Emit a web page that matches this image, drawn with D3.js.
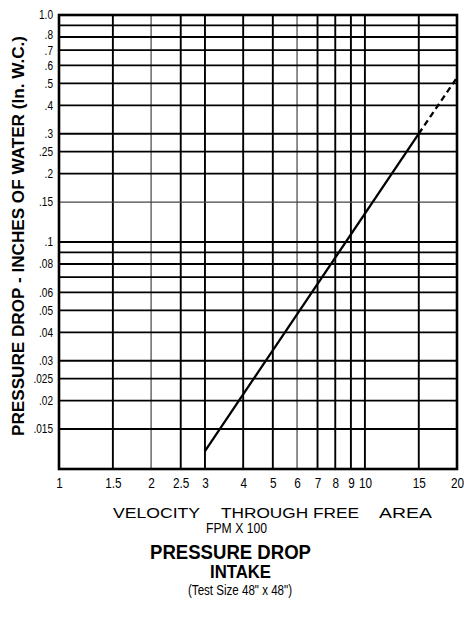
<!DOCTYPE html>
<html>
<head>
<meta charset="utf-8">
<script src="https://cdn.jsdelivr.net/npm/d3@7"></script>
<style>
  html, body { margin: 0; padding: 0; background: #fff; }
  svg { display: block; }
  .sans { font-family: "Liberation Sans", Arial, Helvetica, sans-serif; }
</style>
</head>
<body>
<svg id="chart" width="464" height="624"></svg>
<script>
// ---- data ----
const xTicks = [1, 1.5, 2, 2.5, 3, 4, 5, 6, 7, 8, 9, 10, 15, 20];
const xTickLabels = ["1", "1.5", "2", "2.5", "3", "4", "5", "6", "7", "8", "9", "10", "15", "20"];
const xGrid = [1.5, 2, 2.5, 3, 4, 5, 6, 7, 8, 9, 10, 15];
const xGridLight = [2, 6];

const yTicks = [1, 0.8, 0.7, 0.6, 0.5, 0.4, 0.3, 0.25, 0.2, 0.15, 0.1, 0.08, 0.06, 0.05, 0.04, 0.03, 0.025, 0.02, 0.015];
const yTickLabels = ["1.0", ".8", ".7", ".6", ".5", ".4", ".3", ".25", ".2", ".15", ".1", ".08", ".06", ".05", ".04", ".03", ".025", ".02", ".015"];
const yGrid = [0.9, 0.8, 0.7, 0.6, 0.5, 0.4, 0.3, 0.25, 0.2, 0.15, 0.1, 0.09, 0.08, 0.07, 0.06, 0.05, 0.04, 0.03, 0.025, 0.02, 0.015];
const yGridLight = [0.15];

// curve: pressure drop vs velocity (solid measured part, dashed extrapolation)
const solidVelocity = [3, 15];
const solidPressure = [0.012, 0.3];
const dashedVelocity = [15, 20];
const dashedPressure = [0.3, 0.53];

// ---- layout ----
const mLeft = 59, mRight = 457, mTop = 15, mBottom = 469;
const squeeze = 0.84; // narrow look for the tick labels
const svg = d3.select("#chart");

const x = d3.scaleLog().domain([1, 20]).range([mLeft, mRight]);
const y = d3.scaleLog().domain([0.01, 1]).range([mBottom, mTop]);

// gridlines
const grid = svg.append("g");
grid.selectAll("line.v").data(xGrid).join("line")
  .attr("class", "v")
  .attr("x1", d => x(d)).attr("x2", d => x(d))
  .attr("y1", mTop).attr("y2", mBottom)
  .attr("stroke", d => xGridLight.includes(d) ? "#444" : "#000")
  .attr("stroke-width", d => xGridLight.includes(d) ? 1.2 : 1.9);
grid.selectAll("line.h").data(yGrid).join("line")
  .attr("class", "h")
  .attr("x1", mLeft).attr("x2", mRight)
  .attr("y1", d => y(d)).attr("y2", d => y(d))
  .attr("stroke", d => yGridLight.includes(d) ? "#444" : "#000")
  .attr("stroke-width", d => yGridLight.includes(d) ? 1.2 : 1.9);

// frame
svg.append("rect")
  .attr("x", mLeft).attr("y", mTop)
  .attr("width", mRight - mLeft).attr("height", mBottom - mTop)
  .attr("fill", "none").attr("stroke", "#000").attr("stroke-width", 2.6);

// curve
const line = d3.line().x(d => x(d[0])).y(d => y(d[1]));
svg.append("path")
  .datum(d3.zip(solidVelocity, solidPressure))
  .attr("d", line).attr("fill", "none")
  .attr("stroke", "#000").attr("stroke-width", 2.3);
svg.append("path")
  .datum(d3.zip(dashedVelocity, dashedPressure))
  .attr("d", line).attr("fill", "none")
  .attr("stroke", "#000").attr("stroke-width", 2.3)
  .attr("stroke-dasharray", "6,4");

// axes
const yAxis = d3.axisLeft(y)
  .tickValues(yTicks)
  .tickFormat((d, i) => yTickLabels[i])
  .tickSize(0).tickPadding(6);
const gy = svg.append("g").attr("transform", `translate(${mLeft},0)`).call(yAxis);
gy.select(".domain").remove();
gy.selectAll("text")
  .attr("class", "sans").attr("font-size", 12).attr("fill", "#000")
  .attr("x", -6 / squeeze)
  .attr("dy", d => d === 0.8 ? "0.15em" : "0.32em")
  .attr("transform", `scale(${squeeze},1)`);

const xAxis = d3.axisBottom(x)
  .tickValues(xTicks)
  .tickFormat((d, i) => xTickLabels[i])
  .tickSize(0).tickPadding(9);
const gx = svg.append("g").attr("transform", `translate(0,${mBottom})`).call(xAxis);
gx.select(".domain").remove();
gx.selectAll("text")
  .attr("class", "sans").attr("font-size", 14).attr("fill", "#000")
  .attr("transform", `scale(${squeeze},1)`);

// y axis title
svg.append("text")
  .attr("class", "sans")
  .attr("transform", "translate(24,236) rotate(-90)")
  .attr("text-anchor", "middle")
  .attr("font-size", 17).attr("font-weight", "bold")
  .attr("textLength", 400).attr("lengthAdjust", "spacingAndGlyphs")
  .text("PRESSURE DROP - INCHES OF WATER (In. W.C.)");

// x axis title
svg.append("text").attr("class", "sans").attr("x", 113).attr("y", 518)
  .attr("font-size", 15).attr("textLength", 87).attr("lengthAdjust", "spacingAndGlyphs").text("VELOCITY");
svg.append("text").attr("class", "sans").attr("x", 221).attr("y", 518)
  .attr("font-size", 15).attr("textLength", 138).attr("lengthAdjust", "spacingAndGlyphs").text("THROUGH FREE");
svg.append("text").attr("class", "sans").attr("x", 379).attr("y", 518)
  .attr("font-size", 15).attr("textLength", 53).attr("lengthAdjust", "spacingAndGlyphs").text("AREA");
svg.append("text").attr("class", "sans").attr("x", 206).attr("y", 533)
  .attr("font-size", 14).attr("textLength", 61).attr("lengthAdjust", "spacingAndGlyphs").text("FPM X 100");

// chart title
svg.append("text").attr("class", "sans").attr("x", 150).attr("y", 559)
  .attr("font-size", 20).attr("font-weight", "bold")
  .attr("textLength", 161).attr("lengthAdjust", "spacingAndGlyphs")
  .text("PRESSURE DROP");
svg.append("text").attr("class", "sans").attr("x", 210).attr("y", 578)
  .attr("font-size", 19).attr("font-weight", "bold")
  .attr("textLength", 61).attr("lengthAdjust", "spacingAndGlyphs")
  .text("INTAKE");
svg.append("text").attr("class", "sans").attr("x", 188).attr("y", 595)
  .attr("font-size", 14)
  .attr("textLength", 104).attr("lengthAdjust", "spacingAndGlyphs")
  .text("(Test Size 48\" x 48\")");
</script>
</body>
</html>
